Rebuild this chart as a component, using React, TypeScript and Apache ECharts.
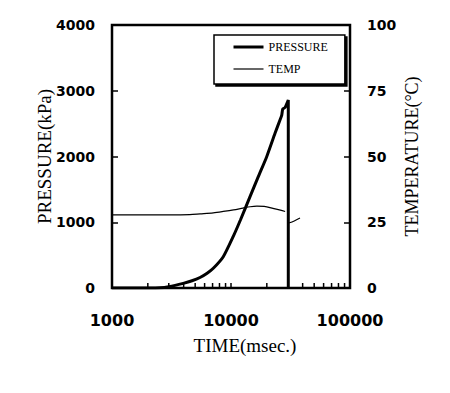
import React, { useEffect, useRef } from "react";
import * as echarts from "echarts";

// Pressure series (time in msec, pressure in kPa)
const pressureTime = [1000, 2000, 2530, 3000, 3970, 4700, 5490, 6300, 7100, 8610, 10450, 12000, 14450, 16960, 19950, 23440, 25800, 26700, 27200, 28430, 30300, 30300];
const pressureKPa = [0, 0, 3, 20, 71, 110, 160, 225, 300, 476, 785, 1034, 1389, 1693, 1997, 2353, 2555, 2631, 2720, 2745, 2860, 0];

// Temperature series (time in msec, temperature in °C); null = gap
const tempTime = [1000, 2000, 3000, 4500, 5500, 7100, 8600, 10500, 12600, 14500, 16500, 19000, 22500, 26000, 28500, 29500, 30500, 34000, 38000];
const tempC = [27.8, 27.8, 27.8, 27.9, 28.2, 28.6, 29.1, 29.7, 30.4, 30.9, 31.1, 31.0, 30.3, 29.6, 29.1, null, 24.7, 25.5, 26.6];

// Minor ticks on the log time axis
const minorTicks = [2000, 3000, 4000, 5000, 6000, 7000, 8000, 9000, 20000, 30000, 40000, 50000, 60000, 70000, 80000, 90000];

const seriesNames = ["PRESSURE", "TEMP"];
const legendWidths = [3, 1.2];

export default function App() {
  const ref = useRef<HTMLDivElement>(null);

  useEffect(() => {
    if (!ref.current) return;
    const chart = echarts.init(ref.current, null, { renderer: "svg" });
    const serif = "Liberation Serif";
    const sans = "DejaVu Sans";
    const plain = (v: number) => String(Math.round(v));
    chart.setOption({
      animation: false,
      backgroundColor: "#fff",
      grid: {
        left: 112,
        right: 100,
        top: 25,
        bottom: 105,
        show: true,
        borderColor: "#000",
        borderWidth: 2.5,
        backgroundColor: "transparent",
      },
      legend: {
        data: seriesNames.map((n, i) => ({ name: n, lineStyle: { width: legendWidths[i], color: "#000" } })),
        orient: "vertical",
        left: 214,
        top: 35,
        padding: [6, 17, 9, 18],
        itemWidth: 30,
        itemHeight: 14,
        itemGap: 10,
        backgroundColor: "#fff",
        borderColor: "#000",
        borderWidth: 1.5,
        shadowColor: "#000",
        shadowBlur: 1,
        shadowOffsetX: 2,
        shadowOffsetY: 2,
        itemStyle: { opacity: 0 },
        textStyle: { fontFamily: serif, fontSize: 12, color: "#000" },
      },
      xAxis: {
        type: "log",
        min: 1000,
        max: 100000,
        logBase: 10,
        name: "TIME(msec.)",
        nameLocation: "middle",
        nameGap: 48,
        nameMoveOverlap: false,
        nameTextStyle: { fontFamily: serif, fontSize: 19, color: "#000", padding: [0, 0, 0, 28] },
        axisLine: { show: false },
        axisTick: { show: true, inside: true, length: 5, lineStyle: { color: "#000", width: 1.5 } },
        axisLabel: { margin: 24, fontFamily: sans, fontWeight: "bold", fontSize: 16, color: "#000", formatter: plain },
        splitLine: { show: false },
      },
      yAxis: [
        {
          type: "value",
          min: 0,
          max: 4000,
          interval: 1000,
          name: "PRESSURE(kPa)",
          nameLocation: "middle",
          nameRotate: 90,
          nameGap: 58,
          nameMoveOverlap: false,
          nameTextStyle: { fontFamily: serif, fontSize: 19, color: "#000" },
          axisLine: { show: false },
          axisTick: { show: true, inside: true, length: 6, lineStyle: { color: "#000", width: 1.5 } },
          axisLabel: { margin: 17, fontFamily: sans, fontWeight: "bold", fontSize: 14, color: "#000", formatter: plain },
          splitLine: { show: false },
        },
        {
          type: "value",
          min: 0,
          max: 100,
          interval: 25,
          position: "right",
          name: "TEMPERATURE(°C)",
          nameLocation: "middle",
          nameRotate: 90,
          nameGap: 53,
          nameMoveOverlap: false,
          nameTextStyle: { fontFamily: serif, fontSize: 18, color: "#000" },
          axisLine: { show: false },
          axisTick: { show: true, inside: true, length: 6, lineStyle: { color: "#000", width: 1.5 } },
          axisLabel: { margin: 17, fontFamily: sans, fontWeight: "bold", fontSize: 14, color: "#000", formatter: plain },
          splitLine: { show: false },
        },
      ],
      series: [
        {
          name: "PRESSURE",
          type: "line",
          xAxisIndex: 0,
          yAxisIndex: 0,
          symbol: "none",
          smooth: 0.2,
          lineStyle: { color: "#000", width: 3 },
          itemStyle: { color: "#000" },
          data: pressureTime.map((t, i) => [t, pressureKPa[i]]),
        },
        {
          name: "TEMP",
          type: "line",
          xAxisIndex: 0,
          yAxisIndex: 1,
          symbol: "none",
          smooth: 0.3,
          connectNulls: false,
          lineStyle: { color: "#000", width: 1.2 },
          itemStyle: { color: "#000" },
          data: tempTime.map((t, i) => [t, tempC[i]]),
        },
        {
          name: "minorTicks",
          type: "custom",
          coordinateSystem: "cartesian2d",
          xAxisIndex: 0,
          yAxisIndex: 0,
          silent: true,
          clip: false,
          z: 10,
          data: minorTicks.map((v) => [v, 0]),
          encode: { x: 0, y: 1 },
          renderItem: (params: any, api: any) => {
            const p = api.coord([api.value(0), api.value(1)]);
            return {
              type: "line",
              shape: { x1: p[0], y1: p[1], x2: p[0], y2: p[1] - 5 },
              style: { stroke: "#000", lineWidth: 1.5 },
            };
          },
        },
      ],
    });
    return () => chart.dispose();
  }, []);

  return <div ref={ref} style={{ width: 450, height: 393, position: "absolute", left: 0, top: 0 }} />;
}
